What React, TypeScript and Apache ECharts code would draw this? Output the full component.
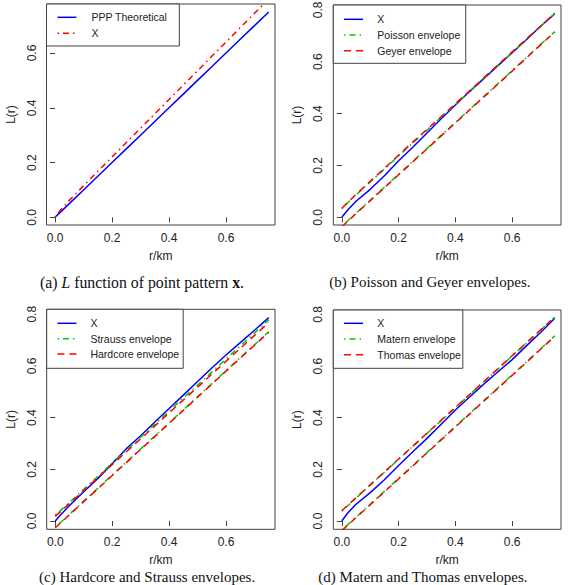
import { useEffect, useRef } from "react";
import * as echarts from "echarts";

// Distance r (km) at which every L(r) curve below is sampled
const R_KM = [0, 0.02, 0.05, 0.1, 0.15, 0.2, 0.25, 0.3, 0.35, 0.4, 0.45, 0.5, 0.55, 0.6, 0.65, 0.7, 0.75];

// (a) L function of the observed pattern against CSR
const PPP_THEORETICAL = [0, 0.02, 0.05, 0.1, 0.15, 0.2, 0.25, 0.3, 0.35, 0.4, 0.45, 0.5, 0.55, 0.6, 0.65, 0.7, 0.75];
const X_A = [0, 0.028, 0.062, 0.115, 0.168, 0.22, 0.273, 0.325, 0.378, 0.43, 0.483, 0.535, 0.588, 0.64, 0.693, 0.745, 0.797];

// (b) Poisson and Geyer envelopes
const X_B = [0, 0.027, 0.062, 0.108, 0.16, 0.218, 0.27, 0.325, 0.38, 0.433, 0.485, 0.535, 0.585, 0.635, 0.685, 0.737, 0.785];
const POISSON_HI = [0.032, 0.055, 0.086, 0.136, 0.186, 0.237, 0.287, 0.336, 0.386, 0.436, 0.486, 0.536, 0.586, 0.636, 0.686, 0.736, 0.786];
const POISSON_LO = [-0.035, -0.014, 0.016, 0.066, 0.116, 0.166, 0.216, 0.266, 0.316, 0.366, 0.416, 0.466, 0.516, 0.566, 0.616, 0.667, 0.716];
const GEYER_HI = [0.035, 0.057, 0.088, 0.139, 0.189, 0.24, 0.29, 0.339, 0.388, 0.438, 0.488, 0.538, 0.588, 0.638, 0.688, 0.737, 0.788];
const GEYER_LO = [-0.037, -0.016, 0.014, 0.064, 0.114, 0.164, 0.214, 0.264, 0.314, 0.364, 0.414, 0.464, 0.514, 0.564, 0.615, 0.665, 0.715];

// (c) Hardcore and Strauss envelopes
const X_C = [0, 0.025, 0.06, 0.113, 0.165, 0.222, 0.28, 0.33, 0.383, 0.435, 0.487, 0.54, 0.592, 0.642, 0.69, 0.738, 0.787];
const STRAUSS_HI = [0.022, 0.042, 0.072, 0.123, 0.173, 0.224, 0.274, 0.324, 0.375, 0.425, 0.476, 0.526, 0.576, 0.627, 0.677, 0.728, 0.778];
const STRAUSS_LO = [-0.024, -0.004, 0.026, 0.077, 0.127, 0.178, 0.228, 0.279, 0.329, 0.38, 0.43, 0.481, 0.531, 0.582, 0.632, 0.682, 0.732];
const HARDCORE_HI = [0.018, 0.038, 0.068, 0.118, 0.168, 0.218, 0.268, 0.318, 0.368, 0.418, 0.468, 0.518, 0.568, 0.618, 0.668, 0.718, 0.768];
const HARDCORE_LO = [-0.026, -0.006, 0.024, 0.075, 0.125, 0.176, 0.226, 0.277, 0.327, 0.378, 0.428, 0.479, 0.529, 0.58, 0.63, 0.68, 0.73];

// (d) Matern and Thomas envelopes
const X_D = [0, 0.03, 0.065, 0.11, 0.16, 0.215, 0.268, 0.32, 0.375, 0.43, 0.48, 0.53, 0.578, 0.625, 0.678, 0.73, 0.785];
const MATERN_HI = [0.038, 0.058, 0.089, 0.139, 0.189, 0.239, 0.289, 0.339, 0.389, 0.439, 0.489, 0.539, 0.589, 0.639, 0.689, 0.739, 0.789];
const MATERN_LO = [-0.035, -0.015, 0.015, 0.065, 0.115, 0.165, 0.215, 0.266, 0.316, 0.366, 0.416, 0.466, 0.516, 0.566, 0.616, 0.667, 0.717];
const THOMAS_HI = [0.04, 0.06, 0.09, 0.14, 0.19, 0.24, 0.29, 0.34, 0.39, 0.44, 0.49, 0.54, 0.59, 0.64, 0.69, 0.74, 0.79];
const THOMAS_LO = [-0.037, -0.017, 0.013, 0.063, 0.113, 0.163, 0.213, 0.264, 0.314, 0.364, 0.414, 0.464, 0.514, 0.564, 0.614, 0.665, 0.715];

// Axis ticks
const X_TICKS = [0, 0.2, 0.4, 0.6];
const Y_TICKS_A = [0, 0.2, 0.4, 0.6];
const Y_TICKS = [0, 0.2, 0.4, 0.6, 0.8];

const X_NAME = "r/km";
const Y_NAME = "L(r)";

const CAPTIONS = [
  "(a) {i|L} function of point pattern {b|x}.",
  "(b) Poisson and Geyer envelopes.",
  "(c) Hardcore and Strauss envelopes.",
  "(d) Matern and Thomas envelopes.",
];

const BLUE = "#0000ff";
const RED = "#ff0000";
const GREEN = "#00cd00";
const INK = "#222222";
const FRAME = "#404040";
const SANS = "Liberation Sans, Arial, sans-serif";
const SERIF = "Liberation Serif, Times New Roman, serif";

const SOLID_BLUE = { color: BLUE, width: 1.5, type: "solid" as const };
const DOTDASH_RED = { color: RED, width: 1.5, type: [1.5, 4, 6, 4] };
const DOTDASH_GREEN = { color: GREEN, width: 1.5, type: [1.5, 4, 6, 4] };
const DASHED_RED = { color: RED, width: 1.5, type: [7, 5] };

// Panel frames (px) and axis ranges
const PANELS = [
  { left: 46.5, top: 4, width: 228.5, height: 221, yMin: -0.028, yMax: 0.779, yTicks: Y_TICKS_A },
  { left: 333.3, top: 5, width: 227.7, height: 220, yMin: -0.0297, yMax: 0.819, yTicks: Y_TICKS },
  { left: 46.7, top: 309.3, width: 228.3, height: 220, yMin: -0.032, yMax: 0.819, yTicks: Y_TICKS },
  { left: 333.3, top: 310, width: 227.7, height: 219.3, yMin: -0.032, yMax: 0.817, yTicks: Y_TICKS },
];
const X_MIN = -0.03;
const X_MAX = 0.772;

const CAPTION_POS = [
  { x: 40, y: 282, size: 15.8 },
  { x: 329.3, y: 282, size: 15 },
  { x: 39, y: 577, size: 15 },
  { x: 318.3, y: 577, size: 15 },
];

type Style = { color: string; width: number; type: any };

function curve(name: string, panel: number, ys: number[], style: Style, z: number) {
  return {
    type: "line",
    name,
    xAxisIndex: panel,
    yAxisIndex: panel,
    data: R_KM.map((r, i) => [r, ys[i]]),
    symbol: "none",
    showSymbol: false,
    lineStyle: style,
    clip: true,
    silent: true,
    z,
  };
}

function legendBox(
  left: number,
  top: number,
  padding: number[],
  gap: number,
  textPad: number,
  items: { name: string; style: Style }[]
) {
  return {
    left,
    top,
    orient: "vertical",
    padding,
    itemGap: gap,
    itemWidth: 19,
    itemHeight: 12,
    borderColor: FRAME,
    borderWidth: 1,
    backgroundColor: "#ffffff",
    selectedMode: false,
    z: 10,
    textStyle: {
      fontFamily: SANS,
      fontSize: 10.5,
      lineHeight: 12,
      color: INK,
      padding: [0, 0, 0, textPad],
    },
    data: items.map((it) => ({
      name: it.name,
      lineStyle: { ...it.style },
      itemStyle: { opacity: 0 },
    })),
  };
}

const fmt = (v: number) => v.toFixed(1);

export default function App() {
  const ref = useRef<HTMLDivElement>(null);

  useEffect(() => {
    if (!ref.current) return;
    const chart = echarts.init(ref.current, undefined, { renderer: "svg" });

    const grid = PANELS.map((p) => ({
      left: p.left,
      top: p.top,
      width: p.width,
      height: p.height,
      show: true,
      borderColor: FRAME,
      borderWidth: 1,
      backgroundColor: "transparent",
      containLabel: false,
      outerBoundsMode: "none",
    }));

    const xAxis = PANELS.map((_, i) => ({
      type: "value",
      gridIndex: i,
      min: X_MIN,
      max: X_MAX,
      name: X_NAME,
      nameLocation: "middle",
      nameGap: 25,
      nameMoveOverlap: false,
      nameTextStyle: { fontFamily: SANS, fontSize: 12, color: INK },
      axisLine: { show: false },
      axisTick: { show: true, length: 5, lineStyle: { color: FRAME, width: 1 }, customValues: X_TICKS },
      axisLabel: {
        customValues: X_TICKS,
        formatter: fmt,
        margin: 7,
        fontFamily: SANS,
        fontSize: 12,
        color: INK,
      },
      splitLine: { show: false },
    }));

    const yAxis = PANELS.map((p, i) => ({
      type: "value",
      gridIndex: i,
      min: p.yMin,
      max: p.yMax,
      name: Y_NAME,
      nameLocation: "middle",
      nameGap: 30,
      nameMoveOverlap: false,
      nameTextStyle: { fontFamily: SANS, fontSize: 12, color: INK },
      axisLine: { show: false },
      axisTick: { show: true, length: 5, lineStyle: { color: FRAME, width: 1 }, customValues: p.yTicks },
      axisLabel: {
        customValues: p.yTicks,
        formatter: fmt,
        rotate: 90,
        margin: 9,
        fontFamily: SANS,
        fontSize: 12,
        color: INK,
      },
      splitLine: { show: false },
    }));

    const series = [
      curve("PPP Theoretical", 0, PPP_THEORETICAL, SOLID_BLUE, 2),
      curve("X", 0, X_A, DOTDASH_RED, 3),

      curve("X", 1, X_B, SOLID_BLUE, 2),
      curve("Poisson envelope", 1, POISSON_HI, DOTDASH_GREEN, 3),
      curve("Poisson envelope", 1, POISSON_LO, DOTDASH_GREEN, 3),
      curve("Geyer envelope", 1, GEYER_HI, DASHED_RED, 4),
      curve("Geyer envelope", 1, GEYER_LO, DASHED_RED, 4),

      curve("X", 2, X_C, SOLID_BLUE, 2),
      curve("Strauss envelope", 2, STRAUSS_HI, DOTDASH_GREEN, 3),
      curve("Strauss envelope", 2, STRAUSS_LO, DOTDASH_GREEN, 3),
      curve("Hardcore envelope", 2, HARDCORE_HI, DASHED_RED, 4),
      curve("Hardcore envelope", 2, HARDCORE_LO, DASHED_RED, 4),

      curve("X", 3, X_D, SOLID_BLUE, 2),
      curve("Matern envelope", 3, MATERN_HI, DOTDASH_GREEN, 3),
      curve("Matern envelope", 3, MATERN_LO, DOTDASH_GREEN, 3),
      curve("Thomas envelope", 3, THOMAS_HI, DASHED_RED, 4),
      curve("Thomas envelope", 3, THOMAS_LO, DASHED_RED, 4),
    ];

    const legend = [
      legendBox(46.5, 4, [7.3, 12, 6.7, 10.2], 4, 10, [
        { name: "PPP Theoretical", style: SOLID_BLUE },
        { name: "X", style: DOTDASH_RED },
      ]),
      legendBox(333.3, 5, [8.3, 5.5, 6.6, 10], 3.7, 9.3, [
        { name: "X", style: SOLID_BLUE },
        { name: "Poisson envelope", style: DOTDASH_GREEN },
        { name: "Geyer envelope", style: DASHED_RED },
      ]),
      legendBox(46.7, 309.3, [8, 4, 8.3, 10], 3.35, 9, [
        { name: "X", style: SOLID_BLUE },
        { name: "Strauss envelope", style: DOTDASH_GREEN },
        { name: "Hardcore envelope", style: DASHED_RED },
      ]),
      legendBox(333.3, 310, [7.3, 2, 7.6, 10], 3.7, 9.3, [
        { name: "X", style: SOLID_BLUE },
        { name: "Matern envelope", style: DOTDASH_GREEN },
        { name: "Thomas envelope", style: DASHED_RED },
      ]),
    ];

    const graphic = CAPTIONS.map((text, i) => {
      const pos = CAPTION_POS[i];
      return {
        type: "text",
        x: pos.x,
        y: pos.y,
        silent: true,
        style: {
          text,
          fontFamily: SERIF,
          fontSize: pos.size,
          fill: "#111111",
          align: "left",
          verticalAlign: "middle",
          rich: {
            i: { fontFamily: SERIF, fontSize: pos.size, fontStyle: "italic", fill: "#111111" },
            b: { fontFamily: SERIF, fontSize: pos.size, fontWeight: "bold", fill: "#111111" },
          },
        },
      };
    });

    chart.setOption({
      animation: false,
      backgroundColor: "#ffffff",
      grid,
      xAxis,
      yAxis,
      legend,
      series,
      graphic,
    });

    return () => chart.dispose();
  }, []);

  return (
    <div
      ref={ref}
      style={{ position: "absolute", left: 0, top: 0, width: 570, height: 585 }}
    />
  );
}
